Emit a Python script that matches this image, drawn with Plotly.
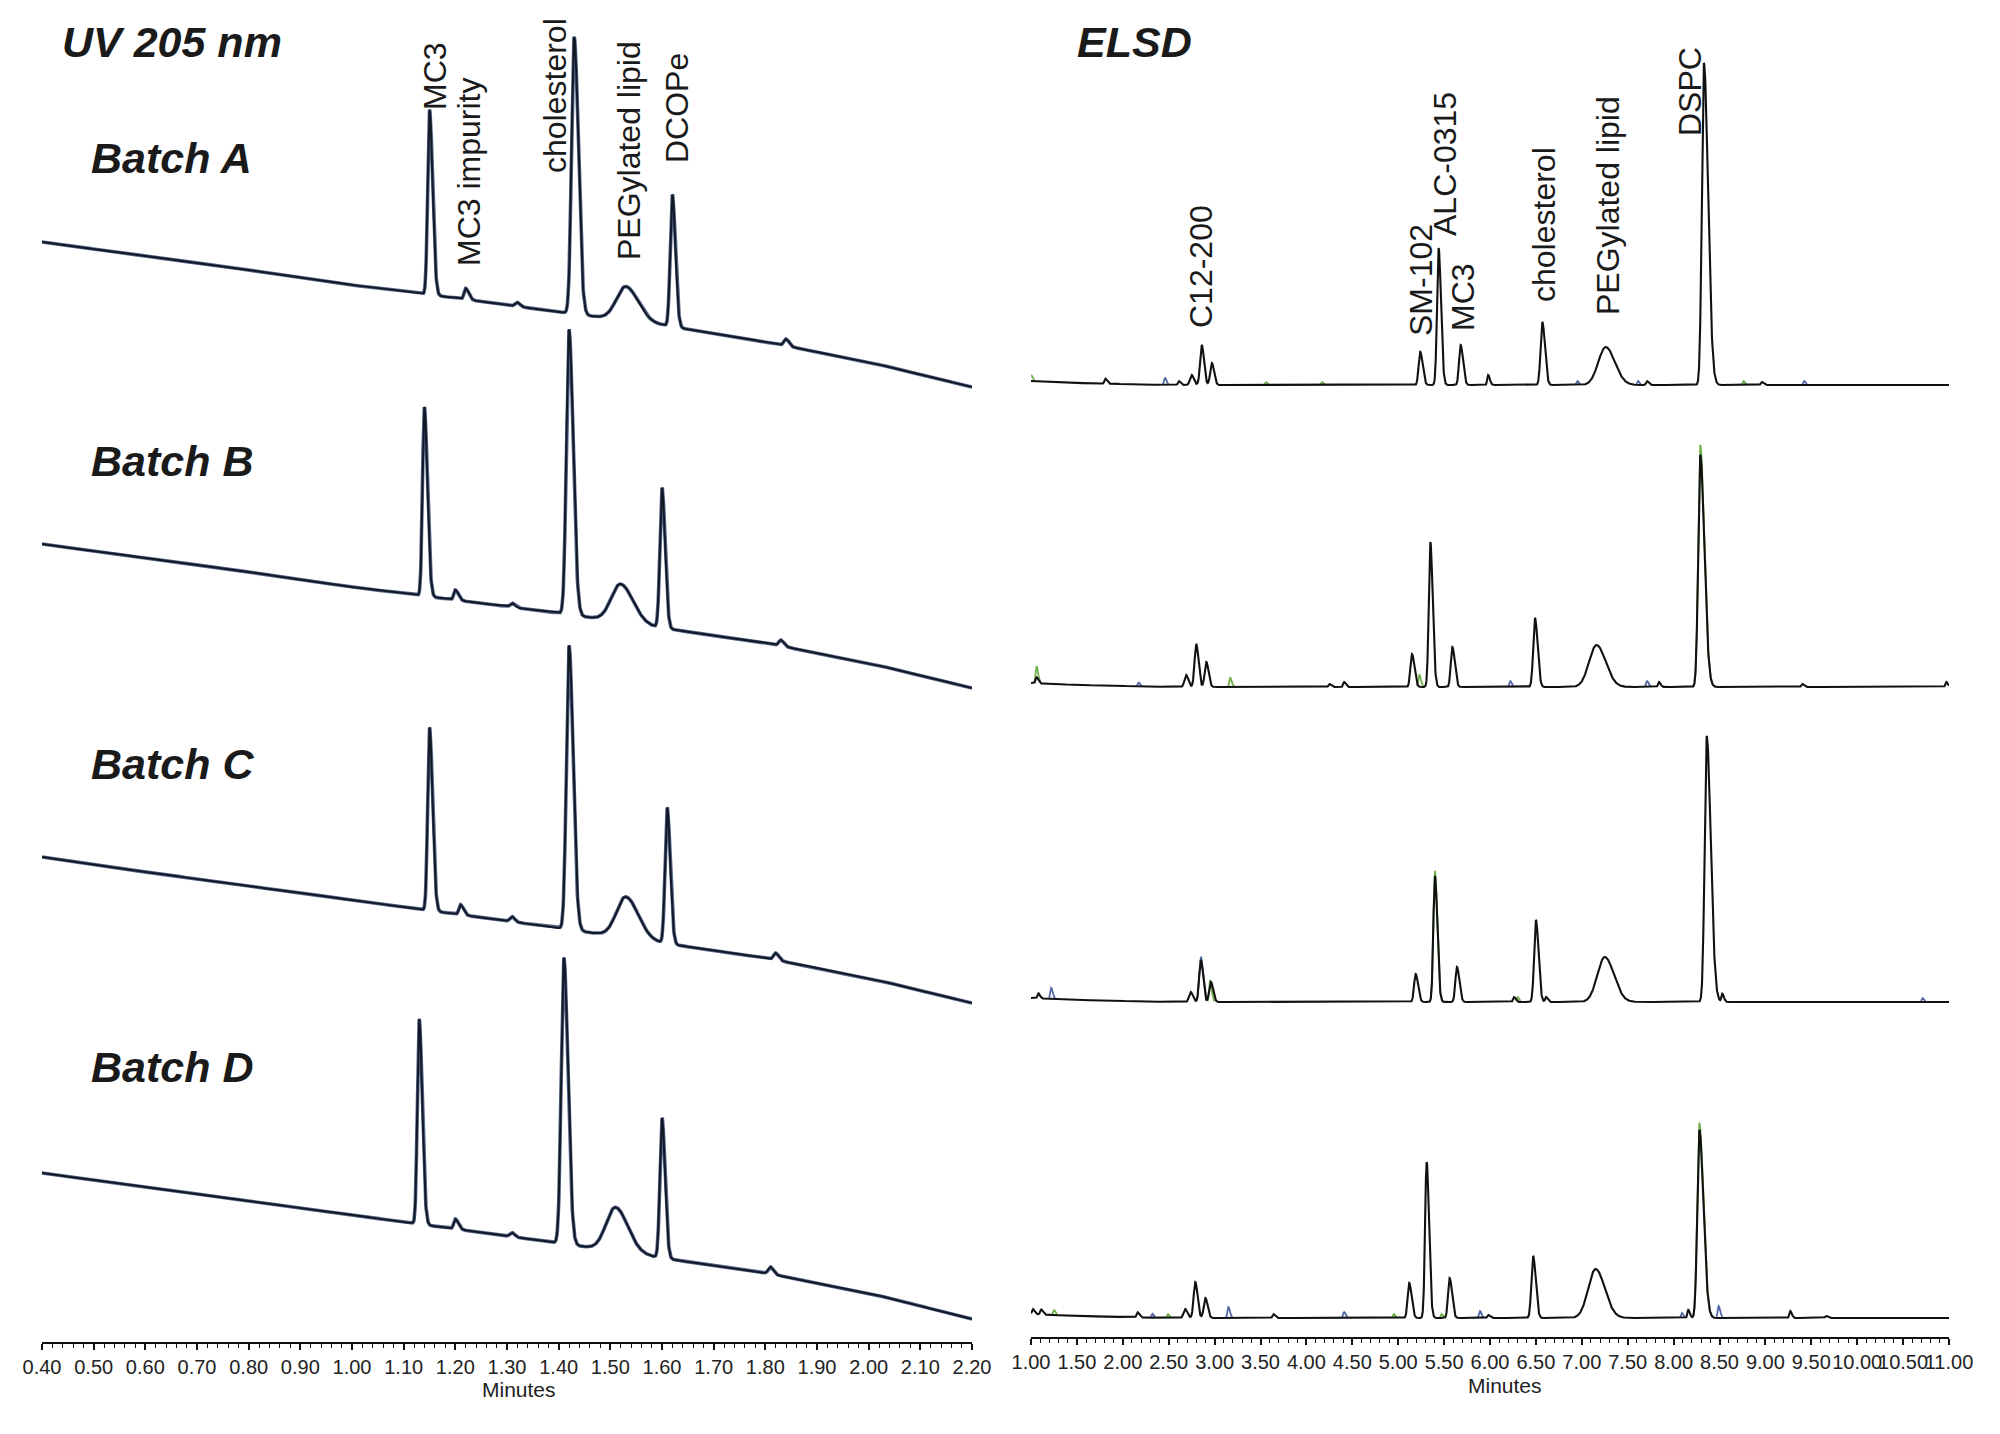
import numpy as np
import plotly.graph_objects as go

# ---------------- UV 205 nm (left panel) ----------------
UV_BATCHES = ["Batch A", "Batch B", "Batch C", "Batch D"]
UV_BASE_TIME = [0.40, 0.60, 0.80, 1.00, 1.20, 1.40, 1.60, 1.80, 2.00, 2.20]
UV_BASE_A = [1100, 1086, 1072, 1057, 1044, 1030, 1017, 1000, 980, 955]
UV_BASE_B = [798, 784, 770, 755, 742, 729, 714, 699, 679, 654]
UV_BASE_C = [485, 470, 456, 442, 428, 414, 399, 384, 364, 339]
UV_BASE_D = [169, 155, 141, 127, 113, 99, 84, 69, 49, 23]

UV_PEAKS = ["MC3", "MC3 impurity", "minor", "cholesterol", "PEGylated lipid", "DCOPe", "late minor"]
UV_RT_A = [1.15, 1.22, 1.32, 1.43, 1.53, 1.62, 1.84]
UV_RT_B = [1.14, 1.20, 1.31, 1.42, 1.52, 1.60, 1.83]
UV_RT_C = [1.15, 1.21, 1.31, 1.42, 1.53, 1.61, 1.82]
UV_RT_D = [1.13, 1.20, 1.31, 1.41, 1.51, 1.60, 1.81]
UV_H_A = [185, 11, 4, 277, 34, 132, 7]
UV_H_B = [189, 10, 4, 285, 38, 140, 6]
UV_H_C = [183, 10, 5, 284, 41, 136, 7]
UV_H_D = [205, 10, 4, 286, 44, 140, 7]
UV_SIG_L = [0.0035, 0.003, 0.004, 0.005, 0.018, 0.004, 0.004]
UV_SIG_R = [0.0060, 0.006, 0.005, 0.008, 0.024, 0.006, 0.006]

# ---------------- ELSD (right panel) ----------------
ELSD_BASE_TIME = [1.0, 1.5, 2.5, 11.0]
ELSD_BASE_A = [956, 954, 952, 952]
ELSD_BASE_B = [654, 652, 650, 650]
ELSD_BASE_C = [339, 337, 335, 335]
ELSD_BASE_D = [23, 21, 19, 19]

# kind -> (sigma_left, sigma_right)
ELSD_KIND_SIGMA = {"s": (0.010, 0.018), "c": (0.018, 0.024), "l": (0.017, 0.026),
                   "ch": (0.019, 0.028), "p": (0.080, 0.100), "d": (0.022, 0.045)}

ELSD_RT_A = [1.81, 2.61, 2.75, 2.86, 2.97, 5.24, 5.44, 5.68, 5.98, 6.57, 7.26, 7.71, 8.33, 8.96]
ELSD_H_A = [5, 4, 10, 40, 22, 33, 137, 40, 10, 63, 38, 4, 322, 3]
ELSD_K_A = ["s", "s", "c", "c", "c", "l", "l", "l", "s", "ch", "p", "s", "d", "s"]

ELSD_RT_B = [1.06, 2.69, 2.80, 2.91, 4.25, 4.41, 5.15, 5.35, 5.59, 6.49, 7.16, 7.84, 8.29, 9.40, 10.97]
ELSD_H_B = [6, 12, 43, 25, 3, 5, 33, 145, 40, 69, 42, 5, 232, 3, 5]
ELSD_K_B = ["s", "c", "c", "c", "s", "s", "l", "l", "l", "ch", "p", "s", "d", "s", "s"]

ELSD_RT_C = [1.08, 2.74, 2.85, 2.96, 5.19, 5.40, 5.64, 6.26, 6.50, 6.61, 7.25, 8.36, 8.53]
ELSD_H_C = [5, 10, 42, 20, 28, 126, 35, 5, 82, 5, 45, 266, 8]
ELSD_K_C = ["s", "c", "c", "c", "l", "l", "l", "s", "ch", "s", "p", "d", "s"]

ELSD_RT_D = [1.02, 1.11, 2.16, 2.68, 2.79, 2.90, 3.64, 5.12, 5.31, 5.56, 5.98, 6.47, 7.15, 8.16, 8.28, 9.27, 9.66]
ELSD_H_D = [5, 5, 5, 9, 36, 20, 4, 35, 156, 40, 3, 62, 49, 8, 188, 7, 2]
ELSD_K_D = ["s", "s", "s", "c", "c", "c", "s", "l", "l", "l", "s", "ch", "p", "s", "d", "s", "s"]

# overlay injections (green / blue) - small extra peaks
ELSD_GREEN_RT = {"A": [1.00, 3.56, 4.17, 8.76], "B": [1.06, 3.17, 5.23, 8.29],
                 "C": [2.95, 5.40, 6.30], "D": [1.25, 2.49, 4.95, 5.47, 8.28]}
ELSD_GREEN_H = {"A": [6, 3, 3, 4], "B": [17, 9, 12, 242],
                "C": [22, 131, 5], "D": [5, 4, 4, 4, 195]}
ELSD_BLUE_RT = {"A": [2.46, 6.95, 7.61, 9.42], "B": [2.17, 6.22, 7.71],
                "C": [1.22, 2.85, 10.71], "D": [2.32, 3.15, 4.41, 5.89, 8.09, 8.49]}
ELSD_BLUE_H = {"A": [7, 4, 4, 4], "B": [4, 6, 6],
               "C": [11, 45, 4], "D": [4, 11, 6, 7, 5, 12]}

UV_TICKS = [round(0.4 + 0.1 * i, 2) for i in range(19)]
ELSD_TICKS = [round(1.0 + 0.5 * i, 2) for i in range(21)]


def peak(t, t0, h, sl, sr):
    s = np.where(t < t0, sl, sr)
    return h * np.exp(-0.5 * ((t - t0) / s) ** 2)


fig = go.Figure()

# ---- UV traces ----
t_uv = np.linspace(0.40, 2.20, 3601)
uv_sets = [(UV_BASE_A, UV_RT_A, UV_H_A), (UV_BASE_B, UV_RT_B, UV_H_B),
           (UV_BASE_C, UV_RT_C, UV_H_C), (UV_BASE_D, UV_RT_D, UV_H_D)]
for name, (base, rts, hs) in zip(UV_BATCHES, uv_sets):
    y = np.interp(t_uv, UV_BASE_TIME, base).astype(float)
    for rt, h, sl, sr in zip(rts, hs, UV_SIG_L, UV_SIG_R):
        y = y + peak(t_uv, rt, h, sl, sr)
    fig.add_trace(go.Scatter(x=t_uv, y=y, mode="lines", xaxis="x", yaxis="y",
                             line=dict(color="#55678a", width=3.6), hoverinfo="skip",
                             showlegend=False))
    fig.add_trace(go.Scatter(x=t_uv, y=y, mode="lines", xaxis="x", yaxis="y",
                             line=dict(color="#121826", width=2.0), name=name,
                             showlegend=False))

# ---- ELSD traces ----
t_el = np.linspace(1.0, 11.0, 5001)
el_sets = [("A", ELSD_BASE_A, ELSD_RT_A, ELSD_H_A, ELSD_K_A),
           ("B", ELSD_BASE_B, ELSD_RT_B, ELSD_H_B, ELSD_K_B),
           ("C", ELSD_BASE_C, ELSD_RT_C, ELSD_H_C, ELSD_K_C),
           ("D", ELSD_BASE_D, ELSD_RT_D, ELSD_H_D, ELSD_K_D)]
for key, base, rts, hs, ks in el_sets:
    b = np.interp(t_el, ELSD_BASE_TIME, base).astype(float)
    for col, rtd, hd in (("#6fb04a", ELSD_GREEN_RT, ELSD_GREEN_H),
                         ("#5468a8", ELSD_BLUE_RT, ELSD_BLUE_H)):
        extra = np.zeros_like(t_el)
        for rt, h in zip(rtd[key], hd[key]):
            sl, sr = ELSD_KIND_SIGMA["s"] if h < 30 else ELSD_KIND_SIGMA["l"]
            if h > 150:
                sl, sr = ELSD_KIND_SIGMA["d"]
            extra = extra + peak(t_el, rt, h, sl, sr)
        yc = np.where(extra > 0.8, b + extra, np.nan)
        fig.add_trace(go.Scatter(x=t_el, y=yc, mode="lines", xaxis="x2", yaxis="y2",
                                 line=dict(color=col, width=1.8), hoverinfo="skip",
                                 connectgaps=False, showlegend=False))
    y = b.copy()
    for rt, h, k in zip(rts, hs, ks):
        sl, sr = ELSD_KIND_SIGMA[k]
        y = y + peak(t_el, rt, h, sl, sr)
    fig.add_trace(go.Scatter(x=t_el, y=y, mode="lines", xaxis="x2", yaxis="y2",
                             line=dict(color="#111111", width=2.1), name="Batch " + key,
                             showlegend=False))

W, H = 2000, 1434
FONT = "Liberation Sans, Arial, sans-serif"

axis_common = dict(showline=True, linecolor="#111", linewidth=2, ticks="outside",
                   tickcolor="#111", tickwidth=1.5, ticklen=6, showgrid=False,
                   zeroline=False, tickformat=".2f", tickangle=0,
                   tickfont=dict(family=FONT, size=20, color="#222"))

fig.update_layout(
    width=W, height=H, margin=dict(l=0, r=0, t=0, b=0, autoexpand=False),
    paper_bgcolor="white", plot_bgcolor="white",
    xaxis=dict(domain=[42 / W, 972 / W], range=[0.40, 2.20], anchor="y",
               tickvals=UV_TICKS, automargin=False,
               minor=dict(ticks="outside", ticklen=4, tickcolor="#111", tickwidth=1.2, dtick=0.02, tick0=0.4),
               **axis_common),
    yaxis=dict(domain=[(H - 1342) / H, 1], range=[0, 1342], visible=False),
    xaxis2=dict(domain=[1031 / W, 1949 / W], range=[1.0, 11.0], anchor="y2",
                tickvals=ELSD_TICKS, automargin=False,
                minor=dict(ticks="outside", ticklen=4, tickcolor="#111", tickwidth=1.2, dtick=0.1, tick0=1.0),
                **axis_common),
    yaxis2=dict(domain=[(H - 1337) / H, 1], range=[0, 1337], visible=False),
)

ann = []


def px(x, y):
    return x / W, 1 - y / H


# titles and batch labels (left-anchored)
for text, x, y in [("UV 205 nm", 60, 42), ("ELSD", 1075, 42),
                   ("Batch A", 89, 158), ("Batch B", 89, 461),
                   ("Batch C", 89, 764), ("Batch D", 89, 1067)]:
    xx, yy = px(x, y)
    ann.append(dict(text="<b><i>" + text + "</i></b>", x=xx, y=yy, xref="paper", yref="paper",
                    showarrow=False, xanchor="left", yanchor="middle",
                    font=dict(family=FONT, size=43, color="#1a1a1a")))

# peak labels (rotated)
for text, x, y in [("MC3", 435, 76), ("MC3 impurity", 469, 172), ("cholesterol", 555, 96),
                   ("PEGylated lipid", 629, 151), ("DCOPe", 677, 108),
                   ("C12-200", 1201, 267), ("SM-102", 1421, 280), ("ALC-0315", 1445, 164),
                   ("MC3", 1463, 297), ("cholesterol", 1544, 225),
                   ("PEGylated lipid", 1608, 206), ("DSPC", 1690, 92)]:
    xx, yy = px(x, y)
    ann.append(dict(text=text, x=xx, y=yy, xref="paper", yref="paper", textangle=-90,
                    showarrow=False, xanchor="center", yanchor="middle",
                    font=dict(family=FONT, size=32, color="#1a1a1a")))

# axis titles
for x, y in [(519, 1389), (1505, 1385)]:
    xx, yy = px(x, y)
    ann.append(dict(text="Minutes", x=xx, y=yy, xref="paper", yref="paper", showarrow=False,
                    xanchor="center", yanchor="middle",
                    font=dict(family=FONT, size=21, color="#222")))

# arrow at end of the UV time axis
ann.append(dict(x=2.212, y=0, xref="x", yref="y", ax=-12, ay=0, axref="pixel", ayref="pixel",
                showarrow=True, arrowhead=2, arrowsize=1.2, arrowwidth=2, arrowcolor="#111", text=""))

fig.update_layout(annotations=ann)
fig.write_html("out.html")
